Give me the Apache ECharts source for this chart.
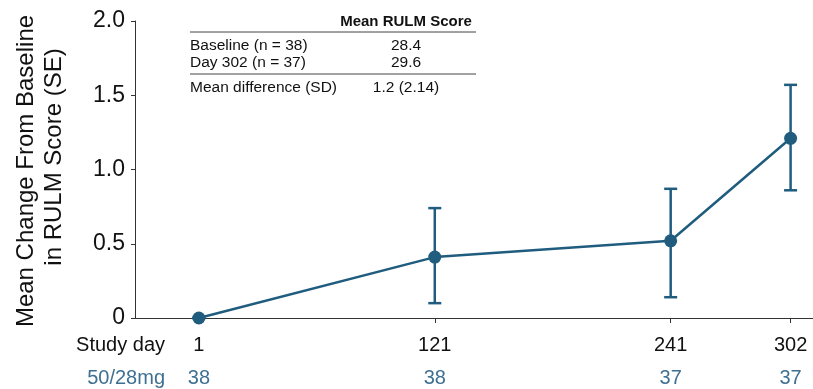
<!DOCTYPE html>
<html>
<head>
<meta charset="utf-8">
<script src="https://cdn.jsdelivr.net/npm/echarts@6/dist/echarts.min.js"></script>
<style>
  html, body { margin: 0; padding: 0; background: #fff; }
  #chart { width: 813px; height: 389px; }
</style>
</head>
<body>
<div id="chart"></div>
<script>
// Study visits (days) and mean change from baseline in RULM score
const studyDays = [1, 121, 241, 302];
const meanChange = [0, 0.41, 0.52, 1.21];
const seLow = [0, 0.10, 0.14, 0.86];
const seHigh = [0, 0.74, 0.87, 1.57];
const patientsAtRisk = [38, 38, 37, 37];

// Axis title lines
const yTitleLines = ['Mean Change From Baseline', 'in RULM Score (SE)'];

// Summary table
const tableHeader = 'Mean RULM Score';
const tableLabels = ['Baseline (n = 38)', 'Day 302 (n = 37)', 'Mean difference (SD)'];
const tableValues = ['28.4', '29.6', '1.2 (2.14)'];

const FONT = '"Liberation Sans", Arial, Helvetica, sans-serif';
const LINE_COLOR = '#1f5c7e';
const N_COLOR = '#3f7092';
const AXIS_COLOR = '#333333';

const chart = echarts.init(document.getElementById('chart'), null, { renderer: 'canvas' });

const errorData = studyDays.map((d, i) => [d, seLow[i], seHigh[i]]);
const lineData = studyDays.map((d, i) => [d, meanChange[i]]);

// table layout
const tableLeft = 190, tableRight = 476, valueCenter = 406;
const rowY = [46, 62.5, 87.5];
const graphics = [
  { type: 'text', style: { text: tableHeader, x: valueCenter, y: 22, align: 'center', verticalAlign: 'middle',
             font: 'bold 15px ' + FONT, fill: '#111' } },
  { type: 'line', shape: { x1: tableLeft, y1: 32, x2: tableRight, y2: 32 },
    style: { stroke: '#444', lineWidth: 1 } },
  { type: 'line', shape: { x1: tableLeft, y1: 74, x2: tableRight, y2: 74 },
    style: { stroke: '#444', lineWidth: 1 } },
  // row headers beside the x-axis labels
  { type: 'text', style: { text: 'Study day', x: 165, y: 345, align: 'right', verticalAlign: 'middle',
             font: '20px ' + FONT, fill: '#111' } },
  { type: 'text', style: { text: '50/28mg', x: 165, y: 378, align: 'right', verticalAlign: 'middle',
             font: '20px ' + FONT, fill: N_COLOR } },
  // rotated y-axis title, two lines
  { type: 'text', x: 26, y: 171, rotation: Math.PI / 2,
    style: { text: yTitleLines[0], x: 0, y: 0, align: 'center', verticalAlign: 'middle',
             font: '24px ' + FONT, fill: '#111' } },
  { type: 'text', x: 54, y: 157, rotation: Math.PI / 2,
    style: { text: yTitleLines[1], x: 0, y: 0, align: 'center', verticalAlign: 'middle',
             font: '24px ' + FONT, fill: '#111' } }
];
tableLabels.forEach((t, i) => {
  graphics.push({ type: 'text', style: { text: t, x: tableLeft, y: rowY[i], align: 'left', verticalAlign: 'middle',
    font: '15.5px ' + FONT, fill: '#111' } });
  graphics.push({ type: 'text', style: { text: tableValues[i], x: valueCenter, y: rowY[i], align: 'center', verticalAlign: 'middle',
    font: '15.5px ' + FONT, fill: '#111' } });
});

chart.setOption({
  animation: false,
  grid: { left: 135, right: 0, top: 21, bottom: 71, containLabel: false, outerBoundsMode: 'none' },
  xAxis: {
    type: 'value',
    min: -31.5,
    max: 313.4,
    splitLine: { show: false },
    axisLine: { show: true, onZero: false, lineStyle: { color: AXIS_COLOR, width: 1 } },
    axisTick: { show: true, customValues: studyDays, length: 5, lineStyle: { color: AXIS_COLOR } },
    axisLabel: {
      customValues: studyDays,
      margin: 11,
      formatter: v => {
        const i = studyDays.indexOf(v);
        return '{d|' + v + '}\n{n|' + patientsAtRisk[i] + '}';
      },
      rich: {
        d: { fontFamily: FONT, fontSize: 20, color: '#111', lineHeight: 33 },
        n: { fontFamily: FONT, fontSize: 20, color: N_COLOR, lineHeight: 33 }
      }
    }
  },
  yAxis: {
    type: 'value',
    min: 0,
    max: 2,
    interval: 0.5,
    splitLine: { show: false },
    axisLine: { show: true, onZero: false, lineStyle: { color: AXIS_COLOR, width: 1 } },
    axisTick: { show: true, length: 4, lineStyle: { color: AXIS_COLOR } },
    axisLabel: {
      margin: 10,
      fontFamily: FONT,
      fontSize: 23,
      color: '#111',
      formatter: v => (v === 0 ? '0' : v.toFixed(1))
    }
  },
  graphic: graphics,
  series: [
    {
      type: 'custom',
      data: errorData,
      z: 2,
      renderItem: (params, api) => {
        const x = api.value(0);
        const lo = api.coord([x, api.value(1)]);
        const hi = api.coord([x, api.value(2)]);
        const half = 6.5;
        const style = { stroke: LINE_COLOR, lineWidth: 2.5, fill: null };
        return {
          type: 'group',
          children: [
            { type: 'line', shape: { x1: lo[0], y1: lo[1], x2: hi[0], y2: hi[1] }, style },
            { type: 'line', shape: { x1: hi[0] - half, y1: hi[1], x2: hi[0] + half, y2: hi[1] }, style },
            { type: 'line', shape: { x1: lo[0] - half, y1: lo[1], x2: lo[0] + half, y2: lo[1] }, style }
          ]
        };
      }
    },
    {
      type: 'line',
      data: lineData,
      z: 3,
      symbol: 'circle',
      symbolSize: 13,
      lineStyle: { color: LINE_COLOR, width: 2.5 },
      itemStyle: { color: LINE_COLOR },
      clip: false
    }
  ]
});
</script>
</body>
</html>
